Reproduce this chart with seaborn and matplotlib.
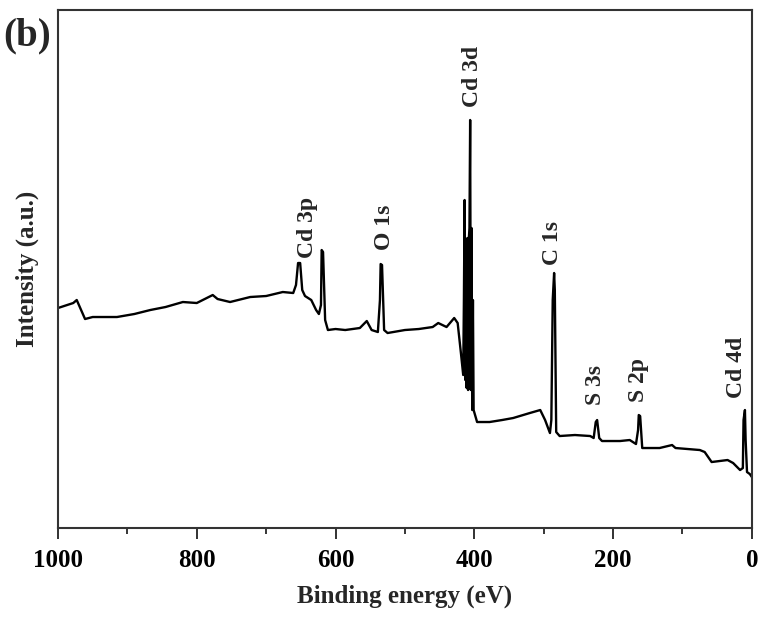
import numpy as np
import pandas as pd
import matplotlib
matplotlib.use('Agg')
import matplotlib.pyplot as plt
import seaborn as sns
from matplotlib.ticker import MultipleLocator

# XPS survey spectrum
binding_energy = [1000, 978, 973, 961, 950, 915, 890, 867, 845, 820, 800, 777, 770, 752,
                  723, 700, 676, 661, 657, 654, 651, 648, 644, 635, 628, 624, 621, 620,
                  618, 615, 611, 600, 586, 565, 555, 548, 539, 536, 535, 533, 530, 525,
                  500, 480, 460, 452, 440, 429, 424, 419, 416, 415, 414, 413, 412, 411,
                  410, 409, 408, 407, 406, 405, 404, 403, 402, 401, 396, 378, 360, 344,
                  320, 305, 298, 291, 289, 287, 285, 284, 282, 277, 255, 233, 228, 225,
                  223, 220, 216, 190, 176, 167, 164, 163, 161, 158, 133, 115, 110, 75,
                  68, 58, 35, 27, 17, 13, 12, 10, 9, 7, 3, 0]
intensity = [220, 225, 228, 209, 211, 211, 214, 218, 221, 226, 225, 233, 229, 226,
             231, 232, 236, 235, 243, 265, 265, 238, 232, 228, 218, 214, 223, 278,
             276, 208, 198, 199, 198, 200, 207, 198, 196, 228, 264, 263, 198, 195,
             198, 199, 201, 205, 201, 210, 205, 173, 153, 228, 328, 148, 288, 140,
             290, 138, 288, 300, 408, 138, 300, 118, 228, 118, 106, 106, 108, 110,
             115, 118, 108, 95, 108, 228, 255, 238, 96, 92, 93, 92, 90, 106,
             108, 90, 87, 87, 88, 84, 98, 113, 112, 80, 80, 83, 80, 78,
             76, 66, 68, 65, 58, 60, 108, 118, 88, 56, 54, 51]

peak_labels = ['Cd 3p', 'O 1s', 'Cd 3d', 'C 1s', 'S 3s', 'S 2p', 'Cd 4d']
label_energy = [641, 529, 403, 287, 226, 163, 22]
label_height = [270, 278, 421, 263, 123, 126, 130]

df = pd.DataFrame({'Binding energy (eV)': binding_energy, 'Intensity': intensity})

sns.set_style('ticks')
plt.rcParams['font.family'] = ['Liberation Serif', 'DejaVu Serif']
plt.rcParams['font.weight'] = 'bold'

fig = plt.figure(figsize=(7.61, 6.17), dpi=100)
ax = fig.add_axes([0.0762, 0.1442, 0.9118, 0.8396])

sns.lineplot(data=df, x='Binding energy (eV)', y='Intensity', ax=ax,
             color='black', linewidth=1.7, sort=False)

ax.set_xlim(1000, 0)
ax.set_ylim(0, 518)
ax.xaxis.set_major_locator(MultipleLocator(200))
ax.xaxis.set_minor_locator(MultipleLocator(100))
ax.set_yticks([])
ax.tick_params(axis='x', which='major', direction='out', length=8, width=1.3,
               pad=7, labelsize=18, colors='#222222')
ax.tick_params(axis='x', which='minor', direction='out', length=4.5, width=1.3)
for lab in ax.get_xticklabels():
    lab.set_fontweight('bold')
    lab.set_color('black')
for s in ax.spines.values():
    s.set_linewidth(1.5)
    s.set_color('#333333')

ax.set_xlabel('Binding energy (eV)', fontsize=18, fontweight='bold', labelpad=9)
ax.set_ylabel('Intensity (a.u.)', fontsize=18, fontweight='bold', labelpad=14)

for name, e, h in zip(peak_labels, label_energy, label_height):
    ax.text(e, h, name, rotation=90, ha='center', va='bottom',
            fontsize=17, fontweight='bold')

fig.text(0.004, 0.972, '(b)', ha='left', va='top', fontsize=28, fontweight='bold')

fig.savefig('out.png', dpi=100)
